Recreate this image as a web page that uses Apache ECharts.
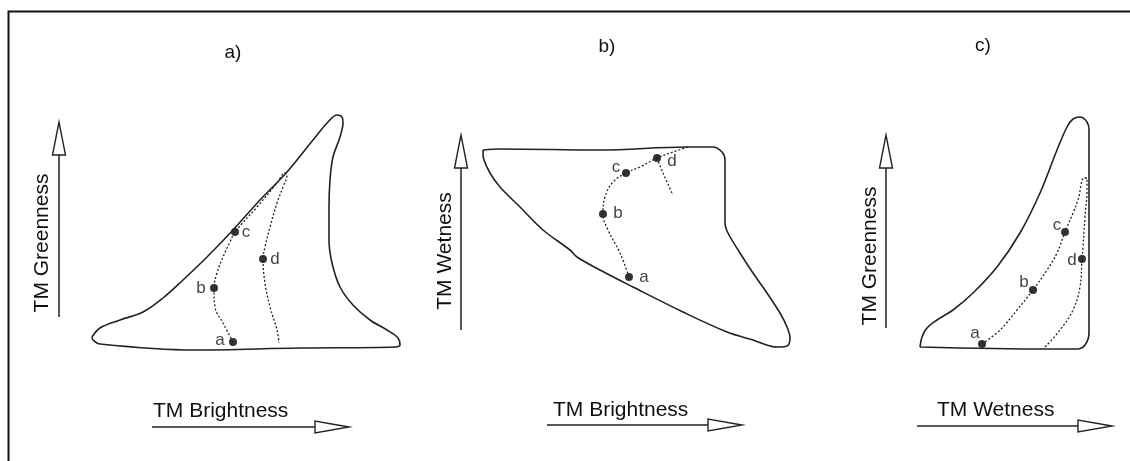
<!DOCTYPE html>
<html>
<head>
<meta charset="utf-8">
<script src="https://cdn.jsdelivr.net/npm/echarts@6/dist/echarts.min.js"></script>
<style>
html,body{margin:0;padding:0;background:#fff;}
#chart{width:1130px;height:461px;}
</style>
</head>
<body>
<div id="chart"></div>
<script>
// ---------- DATA (schematic units per panel) ----------
const panelTitles = ['a)', 'b)', 'c)'];
const xAxisNames = ['TM Brightness', 'TM Brightness', 'TM Wetness'];
const yAxisNames = ['TM Greenness', 'TM Wetness', 'TM Greenness'];
const pointNames = ['a', 'b', 'c', 'd'];

// Panel a: Brightness vs Greenness
const outlineA = [[12,23],[20,32],[40,40],[63,48],[83,62],[103,80],[127,103],[153,130],[180,160],[207,188],[233,220],[248,238],[257,245],[262,243],[263,237],[260,223],[253,203],[250,180],[249,153],[249,120],[252,97],[260,73],[273,55],[290,40],[307,30],[318,22],[320,15],[315,13],[220,12],[113,10],[20,16],[13,20],[12,23]];
const pathA = [[153,18],[143,37],[135,53],[134,72],[137,87],[143,103],[150,118],[155,128],[177,153],[197,177],[205,187],[207,185],[203,173],[197,157],[190,133],[185,113],[183,101],[185,77],[190,53],[197,30],[199,17]];
const pointsA = [[153,18],[134,72],[155,128],[183,101]];

// Panel b: Brightness vs Wetness
const outlineB = [[13,210],[30,211],[130,210],[217,213],[243,213],[252,208],[255,200],[255,173],[255,137],[258,127],[270,107],[283,87],[297,67],[310,47],[317,33],[320,22],[317,14],[307,13],[283,20],[257,28],[213,48],[163,73],[130,90],[107,103],[100,110],[73,130],[50,153],[30,173],[20,187],[14,200],[13,207],[13,210]];
const pathB = [[159,83],[150,107],[138,130],[133,146],[135,163],[143,178],[156,187],[170,193],[187,202],[203,208],[218,213]];
const spurB = [[187,202],[193,187],[203,165]];
const pointsB = [[159,83],[133,146],[156,187],[187,202]];

// Panel c: Wetness vs Greenness
const outlineC = [[10,13],[12,23],[17,32],[27,40],[43,50],[63,67],[87,93],[110,127],[130,167],[147,210],[157,233],[163,241],[170,243],[177,238],[179,230],[179,160],[179,27],[175,15],[167,11],[137,11],[10,13]];
const pathC = [[72,16],[90,30],[107,50],[123,70],[137,90],[147,107],[155,128],[163,147],[168,160],[174,182],[177,182],[177,170],[175,143],[173,113],[172,101],[170,73],[163,50],[150,30],[135,13]];
const pointsC = [[72,16],[123,70],[155,128],[172,101]];

// ---------- LAYOUT / STYLE ----------
const INK = '#222';
const FONT = 'Liberation Sans, Arial, sans-serif';
const grids = [
  {left: 80,  top: 100, width: 340, height: 260},
  {left: 470, top: 130, width: 330, height: 230},
  {left: 910, top: 100, width: 190, height: 260}
];
const labelOffsets = [
  [[-13,-2],[-13,0],[11,0],[12,0]],
  [[15,0],[15,-1],[-10,-6],[15,3]],
  [[-7,-11],[-9,-8],[-8,-7],[-10,1]]
];
const titlePos = [[233,53],[607,47],[983,46]];
const yArrow = [{x:59, y0:317, y1:122, tx:42, ty:243},{x:461, y0:330, y1:135, tx:445, ty:251},{x:886, y0:328, y1:135, tx:870, ty:256}];
const xArrow = [{y:427, x0:152, x1:349, tx:153, ty:411},{y:425, x0:547, x1:742, tx:553, ty:410},{y:426, x0:917, x1:1112, tx:937, ty:410}];

const outlines = [outlineA, outlineB, outlineC];
const paths = [[pathA], [pathB, spurB], [pathC]];
const points = [pointsA, pointsB, pointsC];

const xAxes = [], yAxes = [], series = [], graphics = [];
grids.forEach((g, i) => {
  xAxes.push({type:'value', gridIndex:i, min:0, max:g.width, show:false});
  yAxes.push({type:'value', gridIndex:i, min:0, max:g.height, show:false});
  series.push({
    type:'line', xAxisIndex:i, yAxisIndex:i, data:outlines[i], smooth:0.35,
    showSymbol:false, silent:true, lineStyle:{color:INK, width:1.6}
  });
  paths[i].forEach(p => series.push({
    type:'line', xAxisIndex:i, yAxisIndex:i, data:p, smooth:0.4,
    showSymbol:false, silent:true, lineStyle:{color:INK, width:1.3, type:[2,2]}
  }));
  series.push({
    type:'scatter', xAxisIndex:i, yAxisIndex:i, symbolSize:8,
    itemStyle:{color:'#000'},
    data: points[i].map((v, k) => ({
      value:v, name:pointNames[k],
      label:{show:true, position:'inside', offset:labelOffsets[i][k], formatter:'{b}',
             color:'#111', fontSize:17, fontFamily:FONT}
    }))
  });

  // title text
  graphics.push({type:'text', x:titlePos[i][0], y:titlePos[i][1],
    style:{text:panelTitles[i], fill:'#111', fontSize:19, fontFamily:FONT, align:'center', verticalAlign:'middle'}});

  // vertical arrow
  const ya = yArrow[i];
  graphics.push({type:'line', shape:{x1:ya.x, y1:ya.y0, x2:ya.x, y2:ya.y1+33}, style:{stroke:INK, lineWidth:1.5}});
  graphics.push({type:'polygon', shape:{points:[[ya.x, ya.y1],[ya.x-6.5, ya.y1+33],[ya.x+6.5, ya.y1+33]]}, style:{fill:'#fff', stroke:INK, lineWidth:1.4}});
  graphics.push({type:'text', x:ya.tx, y:ya.ty, rotation:Math.PI/2,
    style:{text:yAxisNames[i], fill:'#111', fontSize:21, fontFamily:FONT, align:'center', verticalAlign:'middle'}});

  // horizontal arrow
  const xa = xArrow[i];
  graphics.push({type:'line', shape:{x1:xa.x0, y1:xa.y, x2:xa.x1-34, y2:xa.y}, style:{stroke:INK, lineWidth:1.5}});
  graphics.push({type:'polygon', shape:{points:[[xa.x1, xa.y],[xa.x1-34, xa.y-6],[xa.x1-34, xa.y+6]]}, style:{fill:'#fff', stroke:INK, lineWidth:1.4}});
  graphics.push({type:'text', x:xa.tx, y:xa.ty,
    style:{text:xAxisNames[i], fill:'#111', fontSize:21, fontFamily:FONT, align:'left', verticalAlign:'middle'}});
});

// outer frame (top and left edges visible; right/bottom cut off)
graphics.push({type:'polyline', shape:{points:[[8.5,470],[8.5,11.5],[1140,11.5]]}, style:{stroke:'#111', lineWidth:2, fill:null}});

const chart = echarts.init(document.getElementById('chart'), null, {renderer:'canvas'});
chart.setOption({
  animation:false,
  backgroundColor:'#fff',
  grid: grids,
  xAxis: xAxes,
  yAxis: yAxes,
  series: series,
  graphic: graphics
});
</script>
</body>
</html>
